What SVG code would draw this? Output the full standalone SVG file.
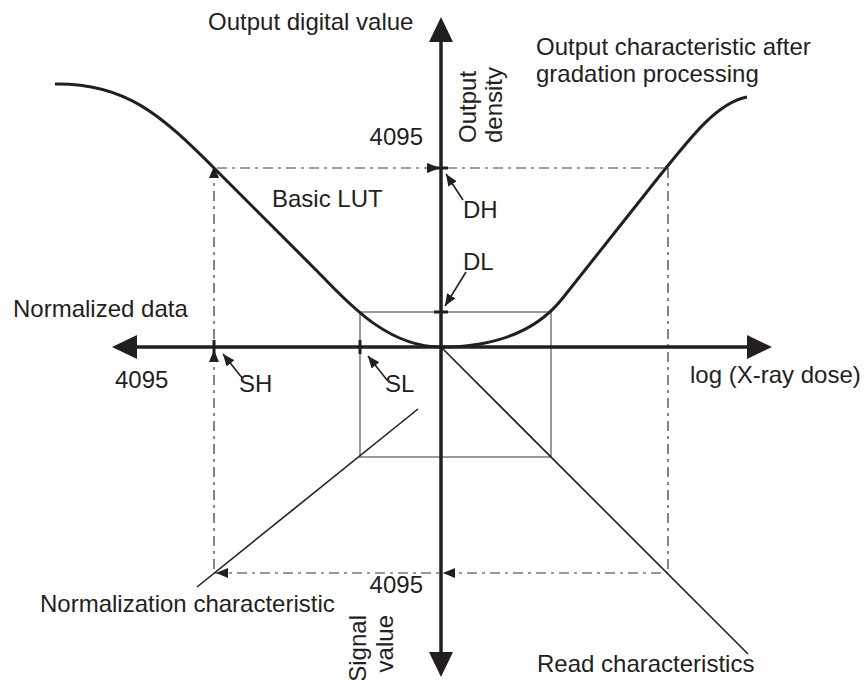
<svg xmlns="http://www.w3.org/2000/svg" width="866" height="680" viewBox="0 0 866 680">
<style>
text{font-family:"Liberation Sans",Arial,sans-serif;font-size:24px;fill:#231f20}
.axis{stroke:#231f20;stroke-width:3.5;fill:none}
.curve{stroke:#231f20;stroke-width:3;fill:none}
.thin{stroke:#231f20;stroke-width:1.6;fill:none}
.box{stroke:#808080;stroke-width:1.6;fill:none}
.gdash{stroke:#808080;stroke-width:1.6;stroke-dasharray:10 5 3 5;fill:none}
.ddash{stroke:#333;stroke-width:1.2;stroke-dasharray:10 5 3 5;fill:none}
.tick{stroke:#231f20;stroke-width:3}
.ptr{stroke:#231f20;stroke-width:1.6;fill:none;marker-end:url(#ah)}
.head{fill:#231f20}
</style>
<defs>
<marker id="ah" viewBox="0 0 12 10" refX="12" refY="5" markerWidth="12" markerHeight="10" markerUnits="userSpaceOnUse" orient="auto">
<path d="M0,0 L12,5 L0,10 Z" fill="#231f20"/>
</marker>
</defs>
<g id="guides">
<rect class="box" x="360" y="312" width="191" height="145"/>
<line class="gdash" x1="217" y1="168" x2="668" y2="168"/>
<line class="ddash" x1="214" y1="168" x2="214" y2="573"/>
<line class="ddash" x1="668" y1="168" x2="668" y2="573"/>
<line class="ddash" x1="214" y1="573" x2="668" y2="573"/>
<polygon class="head" points="214,166 209,178 219,178"/>
<polygon class="head" points="440,168 427,163 427,173"/>
<polygon class="head" points="214,350 209,362 219,362"/>
<polygon class="head" points="443,573 455,568 455,578"/>
<polygon class="head" points="216,573 228,568 228,578"/>
</g>
<g id="axes">
<line class="axis" x1="137" y1="347" x2="748" y2="347"/>
<polygon class="head" points="112,347 137,335 137,359"/>
<polygon class="head" points="772,347 747,335 747,359"/>
<line class="axis" x1="441" y1="40" x2="441" y2="655"/>
<polygon class="head" points="441,17 429,42 453,42"/>
<polygon class="head" points="441,677 429,652 453,652"/>
<line class="tick" x1="434" y1="168" x2="448" y2="168"/>
<line class="tick" x1="434" y1="312" x2="448" y2="312"/>
<line class="tick" x1="214" y1="340" x2="214" y2="354"/>
<line class="tick" x1="360" y1="340" x2="360" y2="354"/>
</g>
<g id="curves">
<path class="curve" d="M55,84 C125,83 160,114 214,168 L318,272 C345,299 385,347 441,347 C500,347 538,329 562,299 L650,188 C690,138 716,103 747,97"/>
<line class="thin" x1="441" y1="347" x2="748" y2="654"/>
<line class="thin" x1="418" y1="409" x2="197" y2="587"/>
</g>
<g id="connectors">
<line class="ptr" x1="463" y1="200" x2="446" y2="174"/>
<line class="ptr" x1="466" y1="272" x2="445" y2="306"/>
<line class="ptr" x1="243" y1="379" x2="223" y2="354"/>
<line class="ptr" x1="387" y1="380" x2="368" y2="356"/>
</g>
<g id="labels">
<text x="208" y="30">Output digital value</text>
<text transform="translate(476,143) rotate(-90)">Output</text>
<text transform="translate(502,143) rotate(-90)">density</text>
<text x="423" y="145" text-anchor="end">4095</text>
<text x="463" y="218">DH</text>
<text x="463" y="270">DL</text>
<text x="272" y="207">Basic LUT</text>
<text x="13" y="317">Normalized data</text>
<text x="115" y="388">4095</text>
<text x="239" y="392">SH</text>
<text x="385" y="392">SL</text>
<text x="690" y="383">log (X-ray dose)</text>
<text x="536" y="55">Output characteristic after</text>
<text x="536" y="82">gradation processing</text>
<text x="423" y="593" text-anchor="end">4095</text>
<text x="40" y="612">Normalization characteristic</text>
<text transform="translate(366,615) rotate(-90)" text-anchor="end">Signal</text>
<text transform="translate(393,615) rotate(-90)" text-anchor="end">value</text>
<text x="537" y="672">Read characteristics</text>
</g>
</svg>
